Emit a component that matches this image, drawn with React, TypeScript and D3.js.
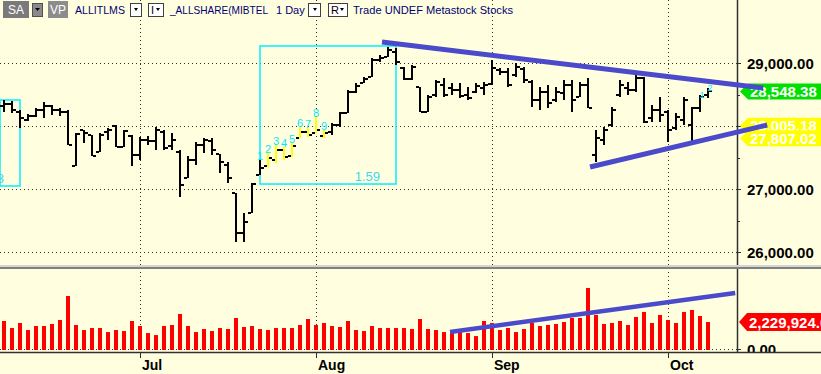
import React from 'react';
import * as d3 from 'd3';

// daily bars, oldest first (prices)
const highPrices = [
  28413, 28397, 28254, 28190, 28286, 28381, 28333, 28286, 28254, 27889,
  27937, 27857, 27889, 27968, 28016, 27937, 27857, 27825, 27841, 27984,
  27937, 27889, 27619, 27524, 27746, 27810, 27810, 27556, 27429, 26937,
  26619, 27095, 27460, 27571, 27698, 27667, 27730, 27984, 27968, 28143,
  27937, 28048, 28222, 28571, 28683, 28778, 29079, 29127, 29254, 29238,
  28937, 28968, 28619, 28492, 28730, 28762, 28683, 28683, 28619, 28683,
  28698, 29048, 28921, 28921, 29000, 28937, 28730, 28619, 28651, 28619,
  28730, 28730, 28698, 28762, 27937, 27984, 28302, 28730, 28698, 28810,
  28778, 28333, 28460, 28254, 28206, 28460, 28302, 28492, 28603,
];
const lowPrices = [
  28222, 28206, 27968, 28079, 28143, 28127, 28175, 28159, 27698, 27365,
  27730, 27524, 27587, 27778, 27667, 27667, 27365, 27460, 27698, 27619,
  27619, 27619, 26873, 27175, 27381, 27571, 27540, 27254, 27095, 26159,
  26159, 26619, 27222, 27349, 27413, 27460, 27508, 27810, 27825, 27889,
  27810, 27857, 27984, 28206, 28524, 28683, 28778, 29016, 29095, 28968,
  28730, 28730, 28222, 28222, 28460, 28460, 28492, 28444, 28413, 28524,
  28492, 28651, 28810, 28619, 28778, 28683, 28302, 28254, 28286, 28381,
  28413, 28222, 28460, 28286, 27429, 27698, 27984, 28460, 28492, 28540,
  28048, 28063, 28063, 27746, 27937, 28016, 27746, 28222, 28444,
];
const openPrices = [
  28317, 28349, 28222, 28095, 28159, 28254, 28317, 28254, 28222, 27365,
  27937, 27857, 27587, 27905, 28000, 27667, 27841, 27540, 27778, 27762,
  27905, 27683, 27587, 27175, 27460, 27698, 27762, 27556, 27381, 26937,
  26302, 26619, 27222, 27365, 27460, 27619, 27524, 27810, 27905, 27889,
  27841, 27905, 28016, 28206, 28540, 28683, 28778, 29048, 29095, 29175,
  28921, 28746, 28619, 28222, 28492, 28651, 28603, 28571, 28492, 28540,
  28603, 28667, 28889, 28857, 28810, 28905, 28698, 28413, 28540, 28413,
  28524, 28651, 28460, 28651, 27540, 27778, 28016, 28492, 28603, 28571,
  28762, 28127, 28254, 28222, 27968, 28095, 28016, 28286, 28492,
];
const closePrices = [
  28349, 28254, 28127, 28159, 28254, 28317, 28254, 28222, 27698, 27873,
  27889, 27524, 27857, 27937, 27667, 27921, 27540, 27778, 27762, 27937,
  27651, 27778, 27063, 27460, 27698, 27778, 27619, 27429, 27175, 26302,
  26476, 27079, 27333, 27492, 27619, 27508, 27683, 27905, 27857, 27937,
  27889, 28016, 28206, 28540, 28635, 28746, 29048, 29079, 29206, 29016,
  28746, 28937, 28222, 28460, 28698, 28492, 28571, 28476, 28444, 28635,
  28651, 28921, 28857, 28651, 28937, 28730, 28413, 28540, 28365, 28540,
  28651, 28413, 28651, 28286, 27810, 27937, 28254, 28651, 28571, 28762,
  28063, 28254, 28175, 27937, 28143, 28413, 28286, 28460, 28548.38,
];
// volume in millions
const volumeMillions = [
  2.31, 1.75, 2.15, 1.59, 1.91, 1.91, 2.07, 2.39, 4.30, 1.99,
  1.59, 1.75, 1.75, 1.43, 1.59, 1.51, 2.31, 1.91, 1.35, 1.19,
  1.91, 1.99, 2.87, 1.91, 1.43, 1.67, 1.51, 1.75, 1.67, 2.55,
  1.83, 1.91, 1.67, 1.59, 1.75, 1.75, 1.75, 1.99, 2.47, 1.99,
  2.15, 1.91, 1.83, 2.31, 1.59, 1.51, 1.91, 1.75, 1.75, 1.75,
  1.75, 1.67, 2.47, 1.67, 1.59, 1.43, 1.51, 1.43, 1.35, 1.11,
  2.31, 2.15, 1.59, 1.75, 1.43, 1.67, 2.15, 1.91, 1.99, 2.07,
  2.23, 2.55, 2.55, 4.94, 2.79, 2.07, 2.15, 2.31, 1.99, 2.63,
  3.03, 2.15, 2.79, 2.39, 2.15, 3.03, 3.19, 2.71, 2.229924,
];

const monthLabels = ['Jul', 'Aug', 'Sep', 'Oct'];
const monthStartBars = [17, 39, 61, 83];
const priceGrid = [26000, 27000, 28000, 29000];
const priceMinor = [26500, 27500, 28500];

// wave count 1..9 starting at bar 32, yellow bars 33..40
const waveStart = 32;
const waveLabels = ['1', '2', '3', '4', '5', '6', '7', '8', '9'];
const tailStart = 87;
const tailLabels = ['1', '2'];

// trend lines [barIndex, value]
const priceTrends = [
  [[47.25, 29333], [94.9, 28603]],
  [[73.25, 27349], [95.4, 28016]],
];
const volumeTrend = [[55.75, 1.43], [91.4, 4.54]];

// cyan boxes
const boxes = [
  { b0: -0.5, b1: 2, top: 28413, bottom: 27048, label: '3' },
  { b0: 32, b1: 49, top: 29270, bottom: 27079, label: '1.59' },
];

const priceMarkers = [
  { value: 28548.38, fill: '#00e000' },
  { value: 28005.18, fill: '#ffff00' },
  { value: 27807.02, fill: '#ffff00' },
];
const volumeMarker = { value: 2229924, fill: '#ff0000' };

const W = 821;
const H = 374;
const AXIS_X = 737;
const BG = '#ffffe0';
const FONT = '"Liberation Sans", Arial, sans-serif';

function Marker({ cy, fill, text, tip, half }) {
  const pts = [
    [tip, cy], [tip + 8, cy - half], [W + 2, cy - half], [W + 2, cy + half], [tip + 8, cy + half],
  ].map(p => p.join(',')).join(' ');
  return (
    <g>
      <polygon points={pts} fill={fill} />
      <text x={tip + 10} y={cy + 5.5} fill="#fff" fontSize={15} fontWeight="bold" fontFamily={FONT}>{text}</text>
    </g>
  );
}

function DropBox({ x, w, label }) {
  return (
    <g>
      <rect x={x + 0.5} y={3.5} width={w} height={13} fill="#fff" stroke="#404040" />
      {label && <text x={x + 3} y={14} fontSize={11} fontFamily={FONT} fill="#000">{label}</text>}
      <path d={`M${x + w - 7},8 l4,0 l-2,3 z`} fill="#000" />
    </g>
  );
}

export default function App() {
  const x = d3.scaleLinear().domain([0, 88]).range([4, 708]);
  const y = d3.scaleLinear().domain([26000, 29000]).range([252, 63]);
  const yv = d3.scaleLinear().domain([0, 2.229924]).range([350, 322]);
  const fmt = d3.format(',.2f');
  const volBase = yv(0);

  return (
    <div style={{ position: 'absolute', left: 0, top: 0 }}>
      <svg width={W} height={H} style={{ display: 'block', background: BG }}>
        <rect width={W} height={H} fill={BG} />

        {/* grid */}
        {monthStartBars.map(b => (
          <line key={'v' + b} x1={x(b) + 0.5} x2={x(b) + 0.5} y1={0} y2={352}
            stroke="#333" strokeDasharray="1 3" />
        ))}
        {priceGrid.map(v => (
          <line key={'h' + v} x1={0} x2={AXIS_X} y1={Math.round(y(v)) + 0.5} y2={Math.round(y(v)) + 0.5}
            stroke="#333" strokeDasharray="1 3" />
        ))}
        <line x1={0} x2={AXIS_X} y1={volBase - 0.5} y2={volBase - 0.5} stroke="#333" strokeDasharray="1 3" />

        {/* cyan boxes */}
        {boxes.map((bx, i) => (
          <g key={'box' + i}>
            <rect x={x(bx.b0)} y={y(bx.top)} width={x(bx.b1) - x(bx.b0)} height={y(bx.bottom) - y(bx.top)}
              fill="none" stroke="#00f0ff" strokeWidth={1.5} />
            <text x={x(bx.b1) - 16} y={y(bx.bottom) - 3} textAnchor="end"
              fill="#40d8f0" fontSize={13} fontFamily={FONT}>{bx.label}</text>
          </g>
        ))}

        {/* price bars */}
        {highPrices.map((h, i) => {
          const cx = Math.round(x(i));
          const top = Math.round(y(h));
          const bot = Math.round(y(lowPrices[i]));
          const hl = i > waveStart && i < waveStart + waveLabels.length;
          return (
            <g key={'b' + i}>
              <rect x={cx - 1} y={top} width={2} height={Math.max(2, bot - top)} fill={hl ? '#ffff00' : '#000'} />
              <rect x={cx - 4} y={Math.round(y(openPrices[i])) - 1} width={3} height={2} fill="#000" />
              <rect x={cx + 1} y={Math.round(y(closePrices[i])) - 1} width={3} height={2} fill="#000" />
            </g>
          );
        })}

        {/* wave labels */}
        {waveLabels.map((t, k) => (
          <text key={'w' + k} x={x(waveStart + k)} y={y(highPrices[waveStart + k])} textAnchor="middle"
            fill="#00e8ff" fontSize={11} fontFamily={FONT}>{t}</text>
        ))}
        {tailLabels.map((t, k) => (
          <text key={'t' + k} x={x(tailStart + k) + 2} y={y(highPrices[tailStart + k]) + 3} textAnchor="middle"
            fill="#00e8ff" fontSize={9} fontFamily={FONT}>{t}</text>
        ))}

        {/* volume bars */}
        {volumeMillions.map((v, i) => (
          <rect key={'vol' + i} x={Math.round(x(i)) - 2} y={yv(v)} width={4} height={volBase - yv(v)} fill="#ff0000" />
        ))}

        {/* pane separator */}
        <rect x={0} y={265} width={W} height={2} fill="#d4d4d4" />
        <rect x={0} y={267} width={W} height={2} fill="#808080" />

        {/* right axis */}
        <line x1={AXIS_X + 0.5} x2={AXIS_X + 0.5} y1={0} y2={265} stroke="#303030" strokeWidth={1.5} />
        <line x1={AXIS_X + 0.5} x2={AXIS_X + 0.5} y1={269} y2={352} stroke="#303030" strokeWidth={1.5} />
        {priceGrid.map(v => (
          <g key={'pt' + v}>
            <line x1={AXIS_X} x2={AXIS_X + 4} y1={Math.round(y(v)) + 0.5} y2={Math.round(y(v)) + 0.5} stroke="#303030" />
            <text x={AXIS_X + 10} y={y(v) + 5.5} fontSize={15} fontWeight="bold" fontFamily={FONT} fill="#000">{fmt(v)}</text>
          </g>
        ))}
        {priceMinor.map(v => (
          <line key={'pm' + v} x1={AXIS_X} x2={AXIS_X + 3} y1={Math.round(y(v)) + 0.5} y2={Math.round(y(v)) + 0.5} stroke="#303030" />
        ))}
        <line x1={AXIS_X} x2={AXIS_X + 4} y1={volBase - 0.5} y2={volBase - 0.5} stroke="#303030" />
        <text x={AXIS_X + 10} y={volBase + 5} fontSize={15} fontWeight="bold" fontFamily={FONT} fill="#000">{fmt(0)}</text>

        {/* last value markers */}
        {priceMarkers.map((m, i) => (
          <Marker key={'m' + i} cy={y(m.value)} fill={m.fill} text={fmt(m.value)} tip={740} half={8} />
        ))}
        <Marker cy={yv(volumeMarker.value / 1e6)} fill={volumeMarker.fill} text={fmt(volumeMarker.value)} tip={739} half={9} />

        {/* trend lines */}
        {priceTrends.map((t, i) => (
          <line key={'tr' + i} x1={x(t[0][0])} y1={y(t[0][1])} x2={x(t[1][0])} y2={y(t[1][1])}
            stroke="#4a4acb" strokeWidth={5} />
        ))}
        <line x1={x(volumeTrend[0][0])} y1={yv(volumeTrend[0][1])} x2={x(volumeTrend[1][0])} y2={yv(volumeTrend[1][1])}
          stroke="#4a4acb" strokeWidth={4.5} />

        {/* time axis */}
        <rect x={0} y={352} width={W} height={H - 352} fill={BG} />
        <line x1={0} x2={W} y1={352.5} y2={352.5} stroke="#303030" strokeWidth={1.5} />
        {monthStartBars.map((b, k) => (
          <g key={'mt' + b}>
            <line x1={x(b) + 0.5} x2={x(b) + 0.5} y1={352} y2={358} stroke="#303030" />
            <text x={x(b) + 2} y={370} fontSize={14} fontWeight="bold" fontFamily={FONT} fill="#000">{monthLabels[k]}</text>
          </g>
        ))}

        {/* toolbar */}
        <g fontFamily={FONT} fontSize={11}>
          <rect x={3} y={1} width={26} height={17} fill="#7a7a7a" />
          <text x={8} y={14} fill="#fff" fontSize={12}>SA</text>
          <rect x={32.5} y={3.5} width={10} height={13} fill="#8a8a8a" stroke="#505050" />
          <path d="M35,8 l5,0 l-2.5,3 z" fill="#000" />
          <rect x={48} y={1} width={20} height={17} fill="#8c8c8c" />
          <text x={50} y={14} fill="#fff" fontSize={12}>VP</text>
          <text x={75} y={14} fill="#000070" textLength={50} lengthAdjust="spacingAndGlyphs">ALLITLMS</text>
          <DropBox x={130} w={11} label="" />
          <DropBox x={148} w={15} label="I" />
          <text x={170} y={14} fill="#000070" textLength={98} lengthAdjust="spacingAndGlyphs">_ALLSHARE(MIBTEL</text>
          <text x={276} y={14} fill="#000070">1 Day</text>
          <DropBox x={308} w={12} label="" />
          <DropBox x={328} w={19} label="R" />
          <text x={353} y={14} fill="#000070" textLength={160} lengthAdjust="spacingAndGlyphs">Trade UNDEF Metastock Stocks</text>
        </g>
      </svg>
    </div>
  );
}
